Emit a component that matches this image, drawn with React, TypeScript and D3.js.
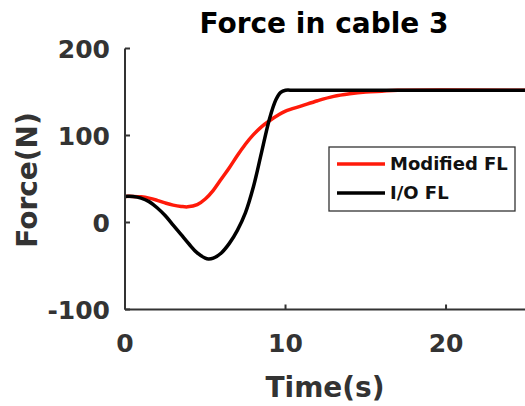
import React from 'react'
import * as d3 from 'd3'

// values
const ioTime = [0, 0.5, 1, 1.5, 2, 2.5, 3, 3.5, 4, 4.5, 5, 5.2, 5.5, 6, 6.5, 7, 7.5, 8, 8.5, 9, 9.4, 9.7, 10, 10.5, 12, 25]
const ioForce = [30, 29.8, 28, 24, 17, 8, -3, -14, -25, -35, -41, -42, -41, -35, -24, -9, 11, 41, 80, 119, 141, 149.5, 152, 152, 152, 152]

const modTime = [0, 0.5, 1, 1.5, 2, 2.5, 3, 3.5, 3.9, 4.5, 5, 5.5, 6, 6.5, 7, 7.5, 8, 8.5, 9, 9.5, 10, 11, 12, 13, 14, 15, 16, 17, 25]
const modForce = [30, 30, 29.5, 28, 25.5, 22.5, 20, 18.5, 18, 20.5, 27, 37, 50, 63, 77, 90, 101, 110, 117, 123, 128, 134, 140, 145, 148, 150, 151, 152, 152]

const xTicks = [0, 10, 20]
const yTicks = [-100, 0, 100, 200]

const seriesNames = ['Modified FL', 'I/O FL']
const seriesColors = ['#ff1a0a', '#000000']

const W = 525
const H = 406
const FONT = '"DejaVu Sans", Verdana, sans-serif'
const AXIS = '#333333'

export default function App() {
  const x = d3.scaleLinear().domain([0, 25]).range([125, 526.3])
  const y = d3.scaleLinear().domain([-100, 200]).range([309.5, 48.5])

  const line = d3.line<[number, number]>()
    .x(d => x(d[0]))
    .y(d => y(d[1]))
    .curve(d3.curveCatmullRom.alpha(0.5))

  const modPts = modTime.map((t, i) => [t, modForce[i]] as [number, number])
  const ioPts = ioTime.map((t, i) => [t, ioForce[i]] as [number, number])

  const x0 = x(0)
  const y0 = y(-100)

  return (
    <svg width={W} height={H} style={{ position: 'absolute', left: 0, top: 0, background: '#fff' }}
      fontFamily={FONT}>
      <rect x={0} y={0} width={W} height={H} fill="#fff" />

      {/* curves */}
      <path d={line(modPts) || ''} fill="none" stroke={seriesColors[0]} strokeWidth={3.5} strokeLinejoin="round" />
      <path d={line(ioPts) || ''} fill="none" stroke={seriesColors[1]} strokeWidth={3.5} strokeLinejoin="round" />

      {/* axes */}
      <line x1={x0} x2={x0} y1={y(200)} y2={y0} stroke={AXIS} strokeWidth={2} />
      <line x1={x0} x2={W + 5} y1={y0} y2={y0} stroke={AXIS} strokeWidth={2} />
      {yTicks.map(v => (
        <g key={'y' + v}>
          <line x1={x0} x2={x0 + 5} y1={y(v)} y2={y(v)} stroke={AXIS} strokeWidth={2} />
          <text x={110} y={y(v)} dy="0.36em" textAnchor="end" fontSize={25} fontWeight="bold" fill={AXIS}>{v}</text>
        </g>
      ))}
      {xTicks.map(v => (
        <g key={'x' + v}>
          <line x1={x(v)} x2={x(v)} y1={y0} y2={y0 - 5} stroke={AXIS} strokeWidth={2} />
          <text x={x(v)} y={352} textAnchor="middle" fontSize={25} fontWeight="bold" fill={AXIS}>{v}</text>
        </g>
      ))}

      {/* labels */}
      <text x={325} y={397} textAnchor="middle" fontSize={28} fontWeight="bold" fill={AXIS}>Time(s)</text>
      <text transform="translate(37,180) rotate(-90)" textAnchor="middle" fontSize={28} fontWeight="bold" fill={AXIS}>Force(N)</text>
      <text x={324} y={33} textAnchor="middle" fontSize={28} fontWeight="bold" fill="#000">Force in cable 3</text>

      {/* legend */}
      <g>
        <rect x={329} y={147} width={186} height={64} fill="#fff" stroke={AXIS} strokeWidth={1.3} />
        {seriesNames.map((name, i) => (
          <g key={name} transform={`translate(0,${164 + i * 29})`}>
            <line x1={337} x2={385} y1={0} y2={0} stroke={seriesColors[i]} strokeWidth={3.5} />
            <text x={390} y={0} dy="0.36em" fontSize={18} fontWeight="bold" fill="#111">{name}</text>
          </g>
        ))}
      </g>
    </svg>
  )
}
